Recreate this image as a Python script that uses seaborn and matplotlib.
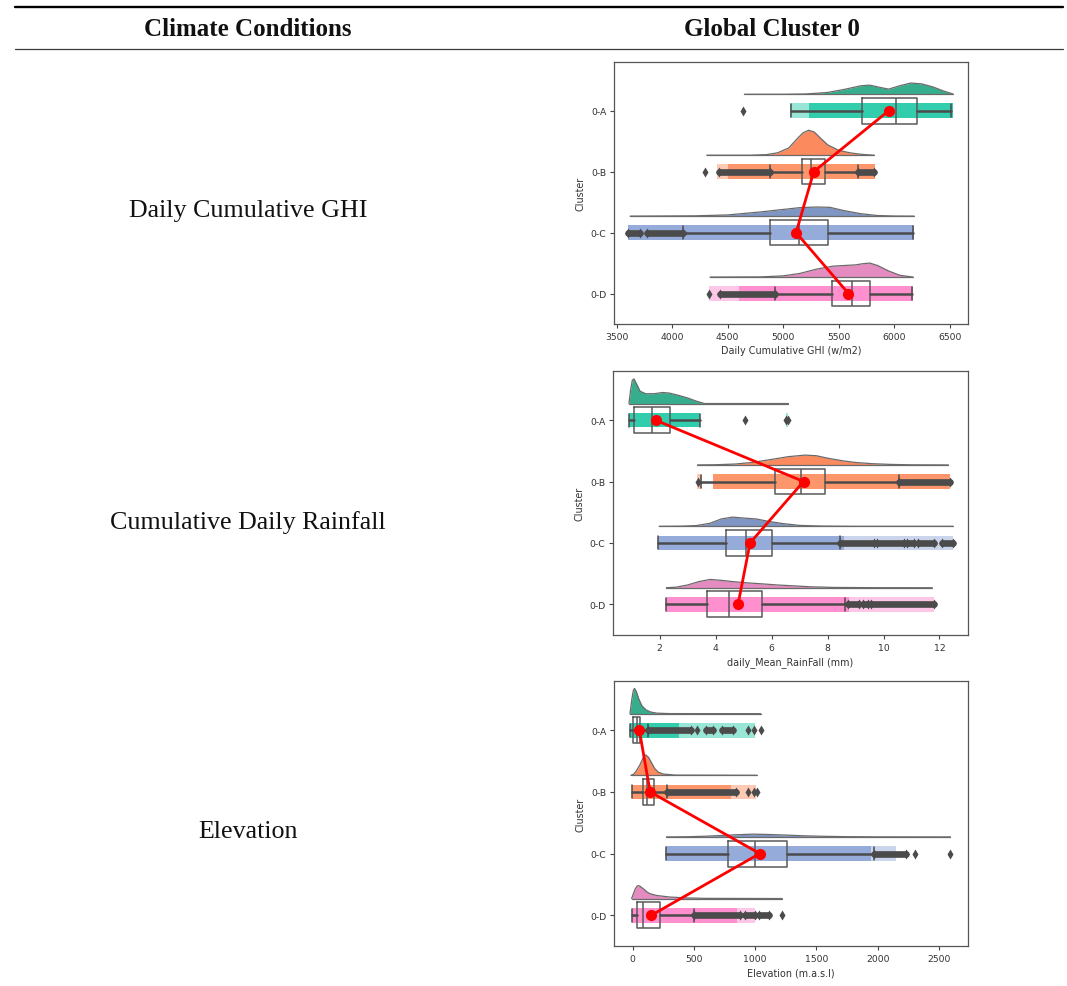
import matplotlib
matplotlib.use("Agg")
import matplotlib.pyplot as plt
from matplotlib.lines import Line2D
import seaborn as sns

# ---------------------------------------------------------------------------
# Data
# ---------------------------------------------------------------------------
CLUSTERS = ["0-A", "0-B", "0-C", "0-D"]

ROW_LABELS = ["Daily Cumulative GHI", "Cumulative Daily Rainfall", "Elevation"]
HEADERS = ["Climate Conditions", "Global Cluster 0"]
X_LABELS = ["Daily Cumulative GHI (w/m2)", "daily_Mean_RainFall (mm)", "Elevation (m.a.s.l)"]

# Daily cumulative GHI (w/m2)
GHI_Q1 = [5706, 5167, 4884, 5438]
GHI_MEDIAN = [6013, 5251, 5146, 5619]
GHI_Q3 = [6208, 5372, 5402, 5778]
GHI_WHISK_LO = [5071, 4884, 4093, 4929]
GHI_WHISK_HI = [6515, 5676, 6169, 6160]
GHI_MEAN = [5950, 5275, 5116, 5588]
GHI_OUTLIERS = [[4641], [4297], [], [4330]]
GHI_OUTLIER_RUNS = [[], [(4420, 4884), (5676, 5814)], [(3600, 3705), (3770, 4093)], [(4430, 4929)]]
GHI_STRIP_DENSE = [[(5230, 6530)], [(4500, 5830)], [(3600, 6180)], [(4600, 6170)]]
GHI_STRIP_SPARSE = [[(5060, 5230)], [(4400, 4500)], [], [(4330, 4600)]]
GHI_CLOUD_X = [
    [4650, 5000, 5200, 5400, 5550, 5700, 5780, 5880, 5950, 6050, 6150, 6250, 6350, 6450, 6530],
    [4310, 4700, 4850, 4950, 5050, 5130, 5180, 5230, 5280, 5330, 5400, 5500, 5600, 5700, 5820],
    [3620, 4200, 4500, 4800, 5000, 5150, 5300, 5420, 5550, 5700, 5850, 6000, 6180],
    [4340, 4800, 5000, 5150, 5300, 5450, 5550, 5650, 5720, 5780, 5850, 5950, 6050, 6170],
]
GHI_CLOUD_H = [
    [0, 0, 0.005, 0.03, 0.08, 0.14, 0.15, 0.11, 0.085, 0.14, 0.185, 0.17, 0.12, 0.05, 0.005],
    [0, 0, 0.01, 0.04, 0.12, 0.28, 0.37, 0.41, 0.38, 0.29, 0.17, 0.08, 0.04, 0.015, 0],
    [0, 0.005, 0.02, 0.07, 0.11, 0.14, 0.15, 0.145, 0.09, 0.04, 0.01, 0.002, 0],
    [0, 0.003, 0.02, 0.06, 0.13, 0.18, 0.19, 0.2, 0.22, 0.23, 0.19, 0.1, 0.03, 0],
]

# Daily mean rainfall (mm)
RAIN_Q1 = [1.07, 6.11, 4.36, 3.69]
RAIN_MEDIAN = [1.71, 7.04, 5.10, 4.48]
RAIN_Q3 = [2.38, 7.92, 6.01, 5.65]
RAIN_WHISK_LO = [0.90, 3.48, 1.95, 2.24]
RAIN_WHISK_HI = [3.45, 10.55, 8.45, 8.62]
RAIN_MEAN = [1.85, 7.14, 5.23, 4.80]
RAIN_OUTLIERS = [[5.04, 6.53, 6.58], [3.38], [], []]
RAIN_OUTLIER_RUNS = [
    [],
    [(10.55, 12.36)],
    [(8.45, 9.65), (9.75, 10.75), (10.85, 11.1), (11.25, 11.8), (12.1, 12.5)],
    [(8.73, 9.14), (9.26, 9.44), (9.56, 11.82)],
]
RAIN_STRIP_DENSE = [[(0.9, 3.45)], [(3.9, 12.36)], [(1.95, 8.6)], [(2.24, 8.75)]]
RAIN_STRIP_SPARSE = [[(6.5, 6.6)], [(3.35, 3.5)], [(8.6, 12.5)], [(8.75, 11.82)]]
RAIN_CLOUD_X = [
    [0.9, 0.96, 1.02, 1.08, 1.16, 1.3, 1.5, 1.8, 2.1, 2.35, 2.7, 3.0, 3.3, 3.6, 6.6],
    [3.35, 4.0, 4.7, 5.3, 6.0, 6.6, 7.2, 7.6, 8.0, 8.5, 9.0, 9.6, 10.3, 11.0, 12.32],
    [1.98, 2.8, 3.3, 3.8, 4.2, 4.6, 5.0, 5.45, 5.9, 6.4, 7.0, 7.8, 9.0, 12.48],
    [2.24, 2.6, 3.0, 3.4, 3.8, 4.2, 4.6, 5.1, 5.6, 6.2, 6.8, 7.4, 8.2, 9.5, 11.74],
]
RAIN_CLOUD_H = [
    [0, 0.22, 0.38, 0.40, 0.33, 0.2, 0.16, 0.16, 0.18, 0.17, 0.13, 0.09, 0.04, 0, 0],
    [0, 0.003, 0.015, 0.04, 0.09, 0.135, 0.16, 0.15, 0.11, 0.07, 0.04, 0.02, 0.008, 0.002, 0],
    [0, 0.003, 0.012, 0.05, 0.12, 0.15, 0.135, 0.12, 0.08, 0.045, 0.015, 0.004, 0, 0],
    [0, 0.01, 0.045, 0.1, 0.135, 0.12, 0.1, 0.08, 0.065, 0.045, 0.03, 0.015, 0.005, 0.001, 0],
]

# Elevation (m.a.s.l)
ELEV_Q1 = [5, 86, 776, 38]
ELEV_MEDIAN = [32, 119, 1000, 81]
ELEV_Q3 = [59, 173, 1262, 227]
ELEV_WHISK_LO = [-22, -8, 276, -8]
ELEV_WHISK_HI = [127, 281, 1973, 500]
ELEV_MEAN = [55, 143, 1038, 154]
ELEV_OUTLIERS = [[527, 938, 992, 1046], [938, 992, 1014], [2303, 2595], [1222]]
ELEV_OUTLIER_RUNS = [
    [(127, 478), (595, 654), (730, 816)],
    [(281, 843)],
    [(1973, 2235)],
    [(500, 880), (920, 1000), (1030, 1114)],
]
ELEV_STRIP_DENSE = [[(-22, 380)], [(-8, 800)], [(276, 1950)], [(-8, 850)]]
ELEV_STRIP_SPARSE = [[(380, 1000)], [(800, 1010)], [(1950, 2150)], [(850, 1000)]]
ELEV_CLOUD_X = [
    [-22, -5, 5, 15, 30, 50, 75, 110, 150, 200, 300, 1046],
    [-14, 10, 30, 60, 85, 108, 130, 155, 180, 210, 250, 350, 1014],
    [276, 450, 600, 750, 850, 980, 1100, 1250, 1400, 1550, 1750, 2000, 2595],
    [-8, 5, 20, 35, 46, 60, 86, 115, 140, 195, 300, 440, 600, 1222],
]
ELEV_CLOUD_H = [
    [0, 0.25, 0.37, 0.41, 0.36, 0.24, 0.13, 0.06, 0.025, 0.008, 0.001, 0],
    [0, 0.02, 0.07, 0.17, 0.28, 0.33, 0.29, 0.2, 0.11, 0.05, 0.02, 0.003, 0],
    [0, 0.003, 0.012, 0.025, 0.035, 0.045, 0.04, 0.03, 0.018, 0.01, 0.004, 0.001, 0],
    [0, 0.07, 0.15, 0.2, 0.21, 0.2, 0.16, 0.11, 0.08, 0.05, 0.025, 0.01, 0.003, 0],
]

GHI_TICKS = [3500, 4000, 4500, 5000, 5500, 6000, 6500]
RAIN_TICKS = [2, 4, 6, 8, 10, 12]
ELEV_TICKS = [0, 500, 1000, 1500, 2000, 2500]

# ---------------------------------------------------------------------------
# Styling
# ---------------------------------------------------------------------------
CLOUD_COLORS = ["#36ad8c", "#fb8a5f", "#7f95c3", "#e48bbf"]
POINT_COLORS = ["#1cc8a3", "#fd8b5a", "#8aa3d6", "#ff83ca"]
DARK = "#4b4b4b"
EDGE = "#5a5a5a"

sns.set_style("ticks")
plt.rcParams["font.family"] = ["DejaVu Sans"]

fig = plt.figure(figsize=(10.67, 9.87), dpi=100)

W, H = 1067.0, 987.0


def fx(px):
    return px / W


def fy(py):
    return 1 - py / H


# Table rules and text
fig.add_artist(Line2D([fx(15), fx(1063)], [fy(8), fy(8)], color="black", lw=1.7))
fig.add_artist(Line2D([fx(15), fx(1063)], [fy(50), fy(50)], color="#3a3a3a", lw=0.9))
serif = ["Liberation Serif", "DejaVu Serif"]
fig.text(fx(248), fy(30), HEADERS[0], ha="center", va="center", family=serif,
         fontsize=18, fontweight="bold", color="#111")
fig.text(fx(772), fy(30), HEADERS[1], ha="center", va="center", family=serif,
         fontsize=18, fontweight="bold", color="#111")
for label, ypix in zip(ROW_LABELS, [211, 523, 832]):
    fig.text(fx(248), fy(ypix), label, ha="center", va="center", family=serif,
             fontsize=18.7, color="#111")

PANELS = [
    dict(q1=GHI_Q1, med=GHI_MEDIAN, q3=GHI_Q3, wlo=GHI_WHISK_LO, whi=GHI_WHISK_HI,
         mean=GHI_MEAN, outl=GHI_OUTLIERS, runs=GHI_OUTLIER_RUNS,
         dense=GHI_STRIP_DENSE, sparse=GHI_STRIP_SPARSE,
         cx=GHI_CLOUD_X, ch=GHI_CLOUD_H, ticks=GHI_TICKS, xlabel=X_LABELS[0],
         xlim=(3475, 6665), box=(614, 63, 968, 325)),
    dict(q1=RAIN_Q1, med=RAIN_MEDIAN, q3=RAIN_Q3, wlo=RAIN_WHISK_LO, whi=RAIN_WHISK_HI,
         mean=RAIN_MEAN, outl=RAIN_OUTLIERS, runs=RAIN_OUTLIER_RUNS,
         dense=RAIN_STRIP_DENSE, sparse=RAIN_STRIP_SPARSE,
         cx=RAIN_CLOUD_X, ch=RAIN_CLOUD_H, ticks=RAIN_TICKS, xlabel=X_LABELS[1],
         xlim=(0.33, 13.02), box=(613, 372, 968, 636)),
    dict(q1=ELEV_Q1, med=ELEV_MEDIAN, q3=ELEV_Q3, wlo=ELEV_WHISK_LO, whi=ELEV_WHISK_HI,
         mean=ELEV_MEAN, outl=ELEV_OUTLIERS, runs=ELEV_OUTLIER_RUNS,
         dense=ELEV_STRIP_DENSE, sparse=ELEV_STRIP_SPARSE,
         cx=ELEV_CLOUD_X, ch=ELEV_CLOUD_H, ticks=ELEV_TICKS, xlabel=X_LABELS[2],
         xlim=(-152, 2738), box=(614, 682, 968, 947)),
]

CLOUD_OFFSET = 0.27
STRIP_HALF = 0.12
BOX_WIDTH = 0.42

for p in PANELS:
    x0, y0, x1, y1 = p["box"]
    ax = fig.add_axes([fx(x0), fy(y1), (x1 - x0) / W, (y1 - y0) / H])

    for i in range(len(CLUSTERS)):
        # half-violin cloud above each cluster
        base = i - CLOUD_OFFSET
        xs = p["cx"][i]
        top = [base - h for h in p["ch"][i]]
        ax.fill_between(xs, top, base, color=CLOUD_COLORS[i], lw=0, zorder=1)
        ax.plot(xs, top, color="#6a6a6a", lw=0.9, zorder=2)
        ax.plot([xs[0], xs[-1]], [base, base], color="#6a6a6a", lw=0.9, zorder=2)

        # rain: band of jittered observations
        for a, b in p["dense"][i]:
            ax.broken_barh([(a, b - a)], (i - STRIP_HALF, 2 * STRIP_HALF),
                           facecolor=POINT_COLORS[i], alpha=0.9, lw=0, zorder=3)
        for a, b in p["sparse"][i]:
            ax.broken_barh([(a, b - a)], (i - STRIP_HALF, 2 * STRIP_HALF),
                           facecolor=POINT_COLORS[i], alpha=0.45, lw=0, zorder=3)

    stats = [dict(med=p["med"][i], q1=p["q1"][i], q3=p["q3"][i],
                  whislo=p["wlo"][i], whishi=p["whi"][i], fliers=[])
             for i in range(len(CLUSTERS))]
    box_kw = dict(positions=list(range(len(CLUSTERS))), widths=BOX_WIDTH,
                  showfliers=False, manage_ticks=False, zorder=10,
                  boxprops=dict(color=EDGE, lw=1.1),
                  whiskerprops=dict(color=DARK, lw=1.8),
                  capprops=dict(color=DARK, lw=1.1),
                  medianprops=dict(color=EDGE, lw=1.1))
    try:
        ax.bxp(stats, orientation="horizontal", **box_kw)
    except TypeError:
        ax.bxp(stats, vert=False, **box_kw)

    # outliers
    for i in range(len(CLUSTERS)):
        for a, b in p["runs"][i]:
            ax.plot([a, b], [i, i], color=DARK, lw=4.8, solid_capstyle="round", zorder=11)
            ax.scatter([a, b], [i, i], marker="d", s=26, color=DARK, lw=0, zorder=11)
        if p["outl"][i]:
            ax.scatter(p["outl"][i], [i] * len(p["outl"][i]), marker="d", s=26,
                       color=DARK, lw=0, zorder=11)

    # cluster means joined by a red line
    sns.pointplot(x=p["mean"], y=CLUSTERS, order=CLUSTERS, orient="h", color="red",
                  markers="o", markersize=6.5, linewidth=2.0, errorbar=None,
                  ax=ax, zorder=20)

    ax.set_xlim(*p["xlim"])
    ax.set_ylim(3.5, -0.8)
    ax.set_xticks(p["ticks"])
    ax.set_xticklabels([str(t) for t in p["ticks"]])
    ax.set_yticks(range(len(CLUSTERS)))
    ax.set_yticklabels(CLUSTERS)
    ax.set_xlabel(p["xlabel"], fontsize=6.9, color="#333", labelpad=3.5)
    ax.set_ylabel("Cluster", fontsize=6.9, color="#333", labelpad=3)
    ax.tick_params(labelsize=6.7, length=3, width=0.8, color="#444",
                   labelcolor="#333", pad=2.5)
    for s in ax.spines.values():
        s.set_color("#555")
        s.set_linewidth(0.9)
        s.set_visible(True)
    ax.grid(False)

fig.savefig("out.png", dpi=100)
